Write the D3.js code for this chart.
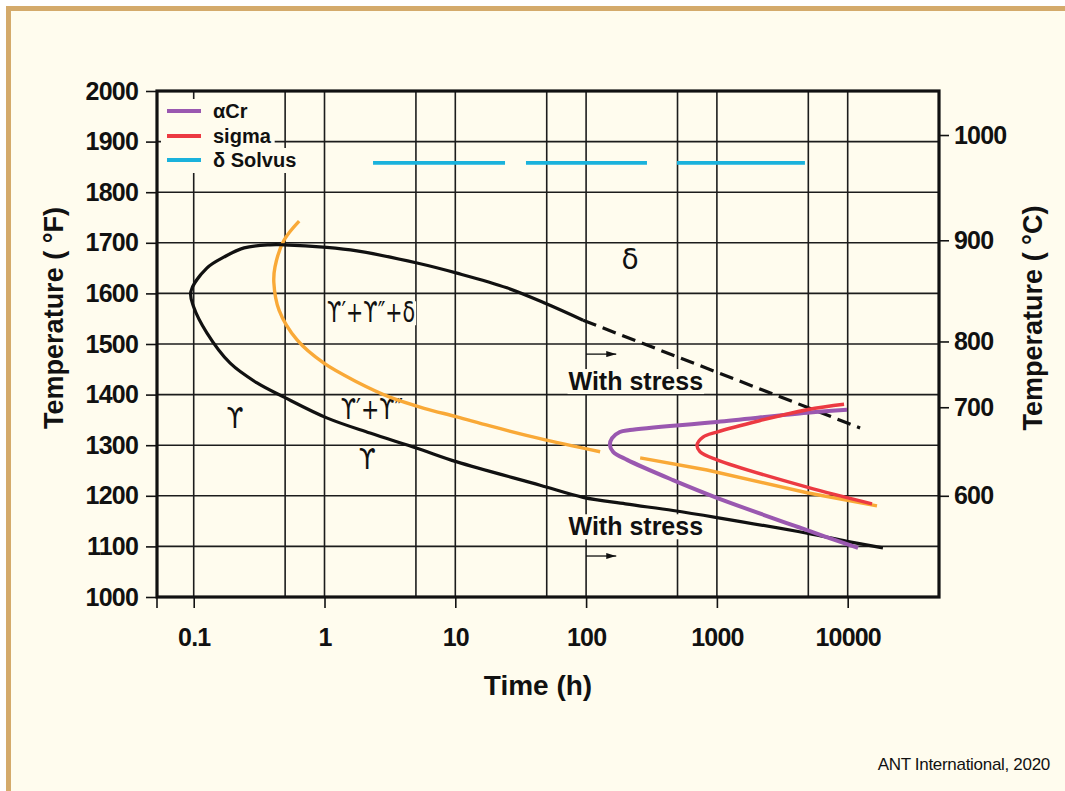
<!DOCTYPE html>
<html>
<head>
<meta charset="utf-8">
<script src="https://cdn.jsdelivr.net/npm/d3@7"></script>
<style>
  html, body { margin: 0; padding: 0; background: #ffffff; }
  svg { display: block; }
  text { font-family: "Liberation Sans", Arial, sans-serif; fill: #111; }
</style>
</head>
<body>
<svg id="chart" width="1065" height="791"></svg>
<script>
// ---- data: time in hours, temperature in °F ----
const timeTicks   = [0.1, 1, 10, 100, 1000, 10000];
const timeLabels  = ["0.1", "1", "10", "100", "1000", "10000"];
const timeGrid    = [0.1, 0.5, 1, 5, 10, 50, 100, 500, 1000, 5000, 10000];
const tempFTicks  = [1000, 1100, 1200, 1300, 1400, 1500, 1600, 1700, 1800, 1900, 2000];
// Celsius labels and the °F height at which each one sits on the right axis
const tempCLabels = [600, 700, 800, 900, 1000];
const tempCAtF    = [1200, 1375, 1505, 1705, 1913];

// gamma-prime / delta C-curve: lower branch, nose, upper branch
const cCurve = [
  [18600,1097],[9880,1110],[4890,1126],[1000,1157],[462,1171],[200,1184],[94.8,1197],
  [44.5,1221],[10.3,1267],[5.1,1294],[2.23,1324],[1.04,1354],
  [0.49,1395],[0.305,1423],[0.19,1462],[0.126,1522],[0.1,1573],[0.095,1603],
  [0.126,1650],[0.171,1672],[0.243,1690],[0.383,1696],[0.49,1696],[1.04,1691],
  [1.77,1684],[5.1,1660],[10.3,1640],[24.8,1611],[50.2,1579],[94.8,1547]
];
// upper boundary continued under stress
const cCurveStress = [[94.8,1547],[4890,1375],[12440,1334]];

const gammaDoublePrime  = [
  [0.64,1743],[0.49,1705],[0.418,1652],[0.41,1621],[0.449,1567],[0.617,1508],
  [0.99,1462],[1.77,1425],[3.16,1395],[5.77,1373],[10.3,1356],[18.4,1338],
  [44.5,1313],[128,1287]
];
const gammaDoublePrime2 = [[259,1275],[841,1251],[4890,1206],[16750,1180]];

const alphaCr = [
  [9885,1370],[4890,1364],[1000,1346],[216,1330],[181,1326],[158,1314],
  [152,1300],[161,1287],[206,1271],[462,1231],[1000,1196],[4890,1132],[12000,1097]
];
const sigma = [
  [9380,1381],[4890,1370],[1000,1326],[783,1316],[705,1300],[743,1287],
  [1000,1271],[4890,1217],[15350,1184]
];
const deltaSolvusTemp = 1858;
const deltaSolvusSpans = [[2.35,24.0],[34.7,292],[495,4710]];

const legendNames  = ["\u03b1Cr", "sigma", "\u03b4 Solvus"];
const legendColors = ["#9a58b0", "#ec3a42", "#1ab2dc"];

// phase-field labels: text, time (h), temperature (°F)
const phaseLabels = [
  { text: "\u03b4", t: 217, T: 1648 },
  { text: "\u03d2\u2032+\u03d2\u2033+\u03b4", t: 2.27, T: 1543, len: 88 },
  { text: "\u03d2\u2032+\u03d2\u2033", t: 2.3, T: 1352, len: 62 },
  { text: "\u03d2", t: 0.207, T: 1334, len: 17 },
  { text: "\u03d2", t: 2.12, T: 1253, len: 17 }
];
const stressNotes = [
  { text: "With stress", t: 240, T: 1409, arrowT: 1480 },
  { text: "With stress", t: 240, T: 1122, arrowT: 1081 }
];
const stressArrowFrom = 100, stressArrowTo = 170;

// ---- layout ----
const W = 1065, H = 791;
const plotL = 157, plotR = 939, plotT = 91, plotB = 597;
const cream = "#fffcee", tan = "#d4aa6b", ink = "#111111";

const svg = d3.select("#chart");
svg.append("rect").attr("width", W).attr("height", H).attr("fill", "#ffffff");
svg.append("rect").attr("x", 6).attr("y", 6).attr("width", W).attr("height", H).attr("fill", tan);
svg.append("rect").attr("x", 11).attr("y", 11).attr("width", W).attr("height", H).attr("fill", cream);

const x = d3.scaleLog().domain([0.0524, 49900]).range([plotL, plotR]);
const y = d3.scaleLinear().domain([1000, 2000]).range([plotB, plotT]);

// grid
const grid = svg.append("g").attr("stroke", "#1c1c1c").attr("stroke-width", 1.6);
grid.selectAll("line.v").data(timeGrid).join("line")
  .attr("x1", d => x(d)).attr("x2", d => x(d)).attr("y1", plotT).attr("y2", plotB);
grid.selectAll("line.h").data(tempFTicks.slice(1, -1)).join("line")
  .attr("x1", plotL).attr("x2", plotR).attr("y1", d => y(d)).attr("y2", d => y(d));

// axes
const fmtAxis = g => {
  g.select(".domain").remove();
  g.selectAll(".tick line").attr("stroke", ink).attr("stroke-width", 1.6);
  g.selectAll(".tick text").attr("fill", ink)
    .style("font-family", "'Liberation Sans', Arial, sans-serif")
    .style("font-weight", "bold").style("font-size", "25px").style("letter-spacing", "-0.8px");
};
svg.append("g").attr("transform", `translate(${plotL},0)`)
  .call(d3.axisLeft(y).tickValues(tempFTicks).tickSize(11).tickPadding(8).tickFormat(d3.format("d")))
  .call(fmtAxis);
svg.append("g").attr("transform", `translate(${plotR},0)`)
  .call(d3.axisRight(y).tickValues(tempCAtF).tickSize(10).tickPadding(5)
        .tickFormat((d, i) => tempCLabels[i]))
  .call(fmtAxis);
svg.append("g").attr("transform", `translate(0,${plotB})`)
  .call(d3.axisBottom(x).tickValues(timeTicks).tickSize(11).tickPadding(20)
        .tickFormat((d, i) => timeLabels[i]))
  .call(fmtAxis);

// frame
svg.append("rect").attr("x", plotL).attr("y", plotT).attr("width", plotR - plotL).attr("height", plotB - plotT)
  .attr("fill", "none").attr("stroke", ink).attr("stroke-width", 3.2);
svg.append("line").attr("x1", plotL).attr("x2", plotL).attr("y1", plotB).attr("y2", plotB + 11)
  .attr("stroke", ink).attr("stroke-width", 1.6);

// axis titles
const bold = sel => sel.style("font-weight", "bold");
svg.append("text").attr("transform", "translate(63,318) rotate(-90)")
  .attr("text-anchor", "middle").style("font-size", "27px").call(bold)
  .text("Temperature ( \u00b0F)");
svg.append("text").attr("transform", "translate(1042,318) rotate(-90)")
  .attr("text-anchor", "middle").style("font-size", "27px").call(bold)
  .text("Temperature ( \u00b0C)");
svg.append("text").attr("x", 538).attr("y", 695).attr("text-anchor", "middle")
  .style("font-size", "28px").call(bold).text("Time (h)");

// labels with a cream backing so grid lines stop at the glyphs
function backedText(g, sel, capHeight, below) {
  sel.each(function () {
    const b = this.getBBox();
    const base = +this.getAttribute("y");
    g.insert("rect", () => this).attr("x", b.x - 1).attr("y", base - capHeight)
      .attr("width", b.width + 2).attr("height", capHeight + below).attr("fill", cream);
  });
}

const labelLayer = svg.append("g");
const phase = labelLayer.selectAll("text.phase").data(phaseLabels).join("text")
  .attr("x", d => x(d.t)).attr("y", d => y(d.T)).attr("text-anchor", "middle")
  .style("font-family", "'DejaVu Sans', sans-serif").style("font-size", "28px")
  .each(function (d) {
    if (d.len) d3.select(this).attr("textLength", d.len).attr("lengthAdjust", "spacingAndGlyphs");
  })
  .text(d => d.text);
backedText(labelLayer, phase, 21, 3);

const notes = labelLayer.selectAll("text.note").data(stressNotes).join("text")
  .attr("x", d => x(d.t)).attr("y", d => y(d.T)).attr("text-anchor", "middle")
  .style("font-size", "25px").call(bold).text(d => d.text);
backedText(labelLayer, notes, 21, 4);

// arrows for the stress shift
svg.append("defs").append("marker").attr("id", "arrow").attr("viewBox", "0 0 10 6")
  .attr("refX", 10).attr("refY", 3).attr("markerWidth", 10).attr("markerHeight", 6)
  .attr("markerUnits", "userSpaceOnUse").attr("orient", "auto")
  .append("path").attr("d", "M0,0 L10,3 L0,6 Z").attr("fill", ink);
svg.selectAll("line.arrow").data(stressNotes).join("line")
  .attr("x1", x(stressArrowFrom)).attr("x2", x(stressArrowTo))
  .attr("y1", d => y(d.arrowT)).attr("y2", d => y(d.arrowT))
  .attr("stroke", ink).attr("stroke-width", 1.3).attr("marker-end", "url(#arrow)");

// curves
const smooth = d3.line().x(d => x(d[0])).y(d => y(d[1])).curve(d3.curveCatmullRom.alpha(0.5));
const straight = d3.line().x(d => x(d[0])).y(d => y(d[1]));
const curves = svg.append("g").attr("fill", "none").attr("stroke-linecap", "butt");

curves.append("path").attr("d", smooth(gammaDoublePrime)).attr("stroke", "#f9a937").attr("stroke-width", 3.4);
curves.append("path").attr("d", straight(gammaDoublePrime2)).attr("stroke", "#f9a937").attr("stroke-width", 3.4);
curves.append("path").attr("d", smooth(cCurve)).attr("stroke", ink).attr("stroke-width", 3.2);
curves.append("path").attr("d", straight(cCurveStress)).attr("stroke", ink).attr("stroke-width", 3.2)
  .attr("stroke-dasharray", "14,7");
curves.append("path").attr("d", smooth(alphaCr)).attr("stroke", legendColors[0]).attr("stroke-width", 4);
curves.append("path").attr("d", smooth(sigma)).attr("stroke", legendColors[1]).attr("stroke-width", 3.4);
curves.selectAll("line.solvus").data(deltaSolvusSpans).join("line")
  .attr("x1", d => x(d[0])).attr("x2", d => x(d[1]))
  .attr("y1", y(deltaSolvusTemp)).attr("y2", y(deltaSolvusTemp))
  .attr("stroke", legendColors[2]).attr("stroke-width", 3.6);

// legend
const legend = svg.append("g");
const rowY = [111, 136, 160];
legendNames.forEach((name, i) => {
  const row = legend.append("g");
  const bg = row.append("rect").attr("fill", cream);
  row.append("line").attr("x1", 167).attr("x2", 201).attr("y1", rowY[i]).attr("y2", rowY[i])
    .attr("stroke", legendColors[i]).attr("stroke-width", 4);
  const t = row.append("text").attr("x", 213).attr("y", rowY[i] + 7)
    .style("font-size", "20px").call(bold).text(name);
  const b = t.node().getBBox();
  bg.attr("x", 161).attr("y", rowY[i] - 12).attr("width", b.x + b.width + 3 - 161).attr("height", 25);
});

// source note
svg.append("text").attr("x", 1050).attr("y", 770).attr("text-anchor", "end")
  .style("font-size", "17px").style("letter-spacing", "-0.3px").text("ANT International, 2020");
</script>
</body>
</html>
